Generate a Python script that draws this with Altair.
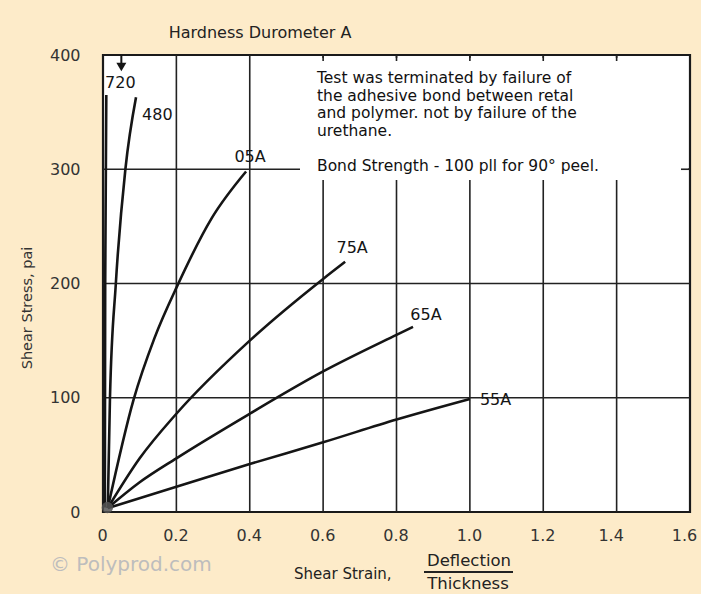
import altair as alt
import pandas as pd

# ---------------- data ----------------
x_ticks = [0, 0.2, 0.4, 0.6, 0.8, 1.0, 1.2, 1.4, 1.6]
y_ticks = [0, 100, 200, 300, 400]
grid_x = [0.2, 0.4, 0.6, 0.8, 1.0, 1.2, 1.4]
grid_y = [100, 200, 300]
top_stub_x = [0.6, 0.8, 1.0, 1.2, 1.4]
right_stub_y = [300]
arrow_x = [0.05]
origin_x = [0.012]
origin_y = [4]

series_names = ["720", "480", "05A", "75A", "65A", "55A"]
strain_720 = [0.005, 0.006, 0.009]
stress_720 = [4, 200, 365]
strain_480 = [0.013, 0.019, 0.035, 0.061, 0.090]
stress_480 = [3.5, 100, 200, 300, 363]
strain_05A = [0.013, 0.083, 0.14, 0.204, 0.296, 0.39]
stress_05A = [3.5, 98, 152, 199, 257, 298]
strain_75A = [0.013, 0.1, 0.2, 0.4, 0.6, 0.66]
stress_75A = [3.5, 47, 86, 150, 204, 219]
strain_65A = [0.013, 0.1, 0.2, 0.4, 0.6, 0.8, 0.845]
stress_65A = [3.5, 26, 47, 86, 123, 155, 162]
strain_55A = [0.013, 0.2, 0.4, 0.6, 0.8, 1.0]
stress_55A = [3.5, 22, 42, 61, 81, 99]

notes = [
    "Test was terminated by failure of",
    "the adhesive bond between retal",
    "and polymer. not by failure of the",
    "urethane.",
]
bond_note = "Bond Strength - 100 pll for 90° peel."

# ---------------- build tables ----------------
curves = {
    "720": (strain_720, stress_720),
    "480": (strain_480, stress_480),
    "05A": (strain_05A, stress_05A),
    "75A": (strain_75A, stress_75A),
    "65A": (strain_65A, stress_65A),
    "55A": (strain_55A, stress_55A),
}
rows = []
for name in series_names:
    xs, ys = curves[name]
    for i, (a, b) in enumerate(zip(xs, ys)):
        rows.append({"series": name, "strain": a, "stress": b, "i": i})
df = pd.DataFrame(rows)

FONT = "DejaVu Sans"
INK = "#151515"
GRID = "#222222"

xscale = alt.Scale(domain=[0, 1.6], nice=False, zero=False)
yscale = alt.Scale(domain=[0, 400], nice=False, zero=False)

x_axis = alt.Axis(
    values=x_ticks,
    labelExpr="datum.value == 0 ? '0' : format(datum.value, '.1f')",
    grid=False, ticks=False, domain=False, title=None,
    labelFont=FONT, labelFontSize=16, labelColor="#333333",
    labelPadding=15, labelFlush=False, labelOverlap=False,
    labelOffset={"condition": {"test": "datum.value > 1.3", "value": -6}, "value": -1},
)
y_axis = alt.Axis(
    values=y_ticks, format="d",
    grid=False, ticks=False, domain=False, title=None,
    labelFont=FONT, labelFontSize=16, labelColor="#333333",
    labelPadding=23, labelFlush=False, labelOverlap=False,
)


def X(field):
    return alt.X(field, type="quantitative", scale=xscale, axis=x_axis)


def Y(field):
    return alt.Y(field, type="quantitative", scale=yscale, axis=y_axis)


one = pd.DataFrame({"a": [0]})

vgrid = alt.Chart(pd.DataFrame({"gx": grid_x})).mark_rule(
    color=GRID, strokeWidth=1.6
).encode(x=X("gx"))

hgrid = alt.Chart(pd.DataFrame({"gy": grid_y})).mark_rule(
    color=GRID, strokeWidth=1.6
).encode(y=Y("gy"))

mask = alt.Chart(one).mark_rect(color="white").encode(
    x=alt.value(197), x2=alt.value(585), y=alt.value(3), y2=alt.value(125)
)

top_stubs = alt.Chart(pd.DataFrame({"sx": top_stub_x})).mark_rule(
    color=GRID, strokeWidth=1.6
).encode(x=X("sx"), y=alt.value(0), y2=alt.value(6))

right_stub = alt.Chart(pd.DataFrame({"sy": right_stub_y})).mark_rule(
    color=GRID, strokeWidth=1.6
).encode(y=Y("sy"), x=alt.value(578), x2=alt.value(587))

lines = alt.Chart(df).mark_line(
    color=INK, strokeWidth=2.6, interpolate="monotone"
).encode(
    x=X("strain"),
    y=Y("stress"),
    detail="series:N",
    order="i:Q",
)

origin_blob = alt.Chart(pd.DataFrame({"ox": origin_x, "oy": origin_y})).mark_circle(
    color="#555555", size=130, opacity=0.85
).encode(x=X("ox"), y=Y("oy"))

# curve end labels
label_style = {
    "720": (14, -12, "center"),
    "480": (6, 18, "left"),
    "05A": (4, -15, "center"),
    "75A": (7, -14, "center"),
    "65A": (13, -12, "center"),
    "55A": (10, 1, "left"),
}
label_layers = []
for name in series_names:
    xs, ys = curves[name]
    dx, dy, al = label_style[name]
    label_layers.append(
        alt.Chart(pd.DataFrame({"lx": [xs[-1]], "ly": [ys[-1]], "t": [name]}))
        .mark_text(font=FONT, fontSize=16, color=INK, dx=dx, dy=dy, align=al, baseline="middle")
        .encode(x=X("lx"), y=Y("ly"), text="t:N")
    )

arrow_shaft = alt.Chart(pd.DataFrame({"ax": arrow_x})).mark_rule(
    color=INK, strokeWidth=2
).encode(x=X("ax"), y=alt.value(0), y2=alt.value(11))
arrow_head = alt.Chart(pd.DataFrame({"ax": arrow_x})).mark_point(
    shape="triangle-down", filled=True, color=INK, size=100, opacity=1
).encode(x=X("ax"), y=alt.value(12))

notes_text = alt.Chart(one).mark_text(
    text=notes, font=FONT, fontSize=15.5, color="#111111", align="left",
    baseline="top", lineHeight=17.5,
).encode(x=alt.value(214), y=alt.value(16))
bond_text = alt.Chart(one).mark_text(
    text=bond_note, font=FONT, fontSize=15.5, color="#111111", align="left",
    baseline="top",
).encode(x=alt.value(214), y=alt.value(104))

title_text = alt.Chart(one).mark_text(
    text="Hardness Durometer A", font=FONT, fontSize=16, color="#222222",
    align="center", baseline="middle",
).encode(x=alt.value(157), y=alt.value(-22))

ytitle = alt.Chart(one).mark_text(
    text="Shear Stress, pai", font=FONT, fontSize=14.5, color="#333333",
    align="center", baseline="middle", angle=270,
).encode(x=alt.value(-75), y=alt.value(253))

xtitle1 = alt.Chart(one).mark_text(
    text="Shear Strain,", font=FONT, fontSize=15, color="#222222",
    align="left", baseline="middle",
).encode(x=alt.value(191), y=alt.value(519))
xtitle2 = alt.Chart(one).mark_text(
    text="Deflection", font=FONT, fontSize=16.5, color="#222222",
    align="center", baseline="middle",
).encode(x=alt.value(366), y=alt.value(506))
xtitle3 = alt.Chart(one).mark_text(
    text="Thickness", font=FONT, fontSize=16.5, color="#222222",
    align="center", baseline="middle",
).encode(x=alt.value(365), y=alt.value(529))
frac_bar = alt.Chart(one).mark_rule(color="#222222", strokeWidth=2).encode(
    x=alt.value(321), x2=alt.value(410), y=alt.value(517)
)

watermark = alt.Chart(one).mark_text(
    text="© Polyprod.com", font=FONT, fontSize=20, color="#BDBDBD",
    align="left", baseline="middle",
).encode(x=alt.value(-53), y=alt.value(510))

chart = alt.layer(
    vgrid, hgrid, mask, top_stubs, right_stub, lines, origin_blob, *label_layers,
    arrow_shaft, arrow_head, notes_text, bond_text, title_text, ytitle,
    xtitle1, xtitle2, xtitle3, frac_bar, watermark,
).properties(
    width=587, height=457,
    background="#FDEBC9",
    padding={"left": 103, "top": 55, "right": 11, "bottom": 82},
    autosize=alt.AutoSizeParams(type="none"),
).configure_view(stroke="#1a1a1a", strokeWidth=2.2, fill="white")

chart.save("out.html", embed_options={"renderer": "svg", "actions": False})
